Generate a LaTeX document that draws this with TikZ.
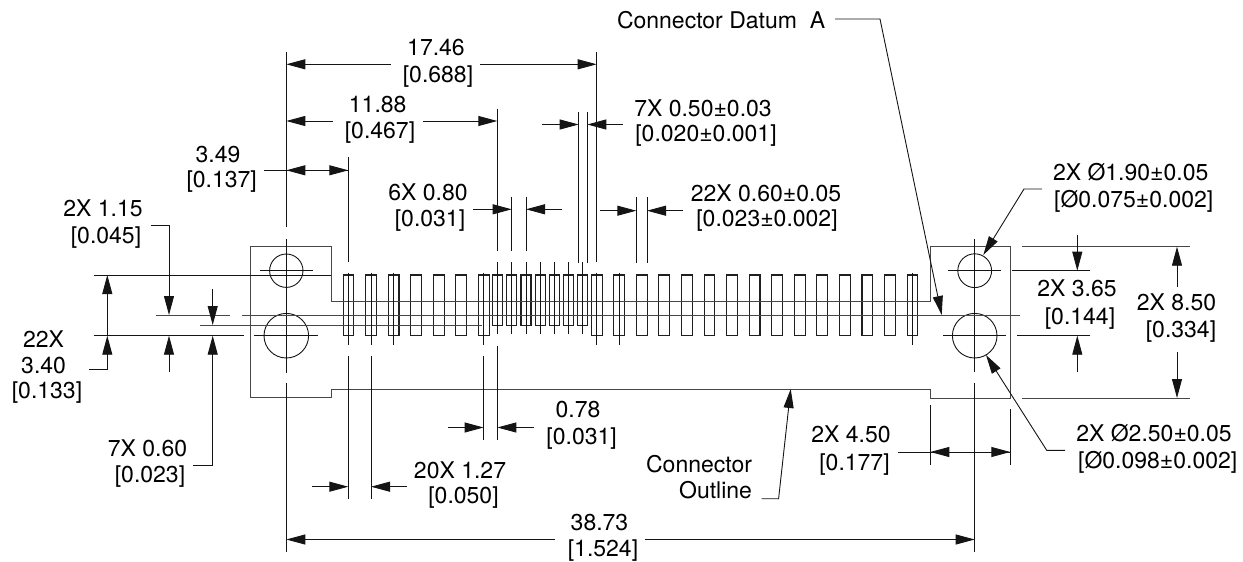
\documentclass[tikz,border=0pt]{standalone}
\usepackage{fontspec}
\setmainfont{TeX Gyre Heros}
\usetikzlibrary{arrows.meta}
\tikzset{
  ln/.style={line width=0.9pt,draw=black!92},
  outl/.style={line width=1pt,draw=black!72},
  pin/.style={line width=1.05pt,draw=black!88},
  tip/.style={ln,-{Triangle[length=19pt,width=10pt]}},
  lbl/.style={inner sep=0pt,outer sep=0pt,anchor=base,font=\fontsize{23}{25}\selectfont,text=black},
  lblr/.style={lbl,anchor=base east},
}
\begin{document}
\begin{tikzpicture}[x=1pt,y=-1pt]
\useasboundingbox (0,0) rectangle (1243,562);
% connector outline
\draw[outl] (331,301.7)--(331,246.7)--(250.5,246.7)--(250.5,397.7)--(331,397.7)--(331,389)--(930.3,389)--(930.3,398)--(1010,398)--(1010,246.7)--(930.3,246.7)--(930.3,301.7)--cycle;
% holes
\draw[ln] (286.3,270.7) circle (16.7) (286.3,335.7) circle (22.3) (974.7,270.7) circle (16.9) (974.7,335.7) circle (22.3);
\draw[ln] (260,270.7)--(312.7,270.7) (254,335.7)--(318,335.7) (948,270.7)--(1000.7,270.7) (943,335.7)--(1006,335.7);
% centre lines
\draw[ln] (286.3,51.7)--(286.3,227) (286.3,239)--(286.3,372.7) (286.3,383)--(286.3,552);
\draw[ln] (974.7,239)--(974.7,372) (974.7,383)--(974.7,552);
% pins
\foreach \k in {0,...,6,11,12,...,25}
  \draw[pin] ({348.5+22.56*\k-5.4},275) rectangle ({348.5+22.56*\k+5.4},335.7);
\foreach \c in {497.4,511.7,526,540.1,554.4,568.6,582.8}
  \draw[pin] (\c-5,275) rectangle (\c+5,325.2);
% long horizontals
\draw[outl] (331,301.7)--(930.3,301.7);
\draw[outl] (241.7,315)--(1020,315) (156,315)--(230,315) (200,325)--(481.7,325);
\draw[ln] (94.3,275)--(331,275) (94.3,335.7)--(244,335.7);
% right-hand extensions
\draw[outl] (1022,246.7)--(1190,246.7) (1022,398)--(1190,398);
\draw[ln] (1012,270.7)--(1090,270.7) (1017,335.7)--(1090,335.7);
% vertical lines through pins
\foreach \c in {348.3,371,393.6,483.6,596.7,619,912.6}
  \draw[ln] (\c,273.3)--(\c,344.7);
\foreach \c in {497.3,511.7,526,540,554.3,568.4,582.7}
  \draw[ln] (\c,262)--(\c,334);
% extension lines above
\draw[ln] (348.3,157.3)--(348.3,261.7) (497.3,108.7)--(497.3,251) (511.7,196.7)--(511.7,251) (526,196.7)--(526,251);
\draw[ln] (578.7,112)--(578.7,263) (587.3,112)--(587.3,263) (596.7,51.7)--(596.7,261.7);
\draw[ln] (636.3,197)--(636.3,263) (647,197)--(647,263);
% extension lines below
\draw[ln] (348.3,356)--(348.3,499.3) (371,356)--(371,499.3) (483.6,356)--(483.6,440) (497.3,346)--(497.3,440);
\draw[ln] (930.3,405)--(930.3,465) (1010.3,409)--(1010.3,465);
% dimensions
\draw[tip] (390.7,64.3)--(286.3,64.3);
\draw[tip] (480,64.3)--(596.7,64.3);
\draw[tip] (332.7,121)--(286.3,121);
\draw[tip] (423.3,121)--(497.3,121);
\draw[ln] (264,170.3)--(286.3,170.3);
\draw[tip] (348.3,170.3)--(286.3,170.3);
\draw[tip] (286.3,170.3)--(348.3,170.3);
\draw[tip] (542,124.5)--(578.7,124.5);
\draw[tip] (623,124.5)--(587.3,124.5);
\draw[tip] (473,209.3)--(511.7,209.3);
\draw[tip] (561.7,209.3)--(526,209.3);
\draw[tip] (600,210.7)--(636.3,210.7);
\draw[tip] (682.7,210.7)--(647,210.7);
\draw[tip] (1077.3,235)--(1077.3,270.7);
\draw[tip] (1077.3,371.7)--(1077.3,335.7);
\draw[tip] (1177,286.7)--(1177,246.7);
\draw[tip] (1177,352.3)--(1177,398);
\draw[ln] (898,452)--(930.3,452);
\draw[tip] (1010.3,452)--(930.3,452);
\draw[tip] (930.3,452)--(1010.3,452);
\draw[tip] (448,427.5)--(483.6,427.5);
\draw[tip] (534,427.5)--(497.3,427.5);
\draw[tip] (312,486.7)--(348.3,486.7);
\draw[tip] (407,486.7)--(371,486.7);
\draw[tip] (554.8,539.5)--(286.3,539.5);
\draw[tip] (644.7,539.5)--(974.7,539.5);
% left dimensions
\draw[tip] (150.7,225)--(169,225)--(169,315);
\draw[tip] (169,371.7)--(169,335.7);
\draw[tip] (212.7,289)--(212.7,325);
\draw[tip] (193,465)--(212.7,465)--(212.7,335.7);
\draw[tip] (107.3,335.7)--(107.3,275);
\draw[tip] (89.3,369.3)--(107.3,369.3)--(107.3,335.7);
% leaders
\draw[tip] (835,19)--(880,19)--(941.7,315);
\draw[tip] (1042,189)--(1024,189)--(983.3,255);
\draw[tip] (1065,450.3)--(1046.7,450.3)--(986,355);
\draw[tip] (761.7,498.7)--(778.6,498.7)--(790.7,389);
% text
\node[lbl,anchor=base west] (tDatum) at (617,28) {Connector Datum\ \ A};
\node[lbl] (t1a) at (436,55) {17.46};
\node[lbl] (t1b) at (438,82) {[0.688]};
\node[lbl] (t2a) at (377.7,112) {11.88};
\node[lbl] (t2b) at (380,138.7) {[0.467]};
\node[lbl] (t3a) at (218,162) {3.49};
\node[lbl] (t3b) at (221.7,187) {[0.137]};
\node[lbl] (t4a) at (703,116) {7X 0.50±0.03};
\node[lbl] (t4b) at (706,141) {[0.020±0.001]};
\node[lbl] (t5a) at (428,200) {6X 0.80};
\node[lbl] (t5b) at (430,226) {[0.031]};
\node[lbl] (t6a) at (766,201) {22X 0.60±0.05};
\node[lbl] (t6b) at (767,226) {[0.023±0.002]};
\node[lbl] (t7a) at (1130.7,180.5) {2X Ø1.90±0.05};
\node[lbl] (t7b) at (1133.7,207) {[Ø0.075±0.002]};
\node[lbl] (t8a) at (103,216) {2X 1.15};
\node[lbl] (t8b) at (106,243) {[0.045]};
\node[lbl] (t9a) at (43.5,347) {22X};
\node[lbl] (t9b) at (43.6,373) {3.40};
\node[lbl] (t9c) at (47,398) {[0.133]};
\node[lbl] (t10a) at (147.5,456) {7X 0.60};
\node[lbl] (t10b) at (150,482) {[0.023]};
\node[lbl] (t11a) at (1077,296.7) {2X 3.65};
\node[lbl] (t11b) at (1080,324) {[0.144]};
\node[lbl] (t12a) at (1176.5,310.7) {2X 8.50};
\node[lbl] (t12b) at (1181,337) {[0.334]};
\node[lbl] (t13a) at (851,442.7) {2X 4.50};
\node[lbl] (t13b) at (854.5,470) {[0.177]};
\node[lbl] (t14a) at (1154,441.7) {2X Ø2.50±0.05};
\node[lbl] (t14b) at (1157.7,468.3) {[Ø0.098±0.002]};
\node[lbl] (t15a) at (578,417.3) {0.78};
\node[lbl] (t15b) at (581.6,444.3) {[0.031]};
\node[lbl] (t16a) at (460,478.3) {20X 1.27};
\node[lbl] (t16b) at (463.5,503.3) {[0.050]};
\node[lblr] (t17a) at (752,472) {Connector};
\node[lblr] (t17b) at (752,498.3) {Outline};
\node[lbl] (t18a) at (599.5,530.7) {38.73};
\node[lbl] (t18b) at (603,556) {[1.524]};
\end{tikzpicture}
\end{document}
